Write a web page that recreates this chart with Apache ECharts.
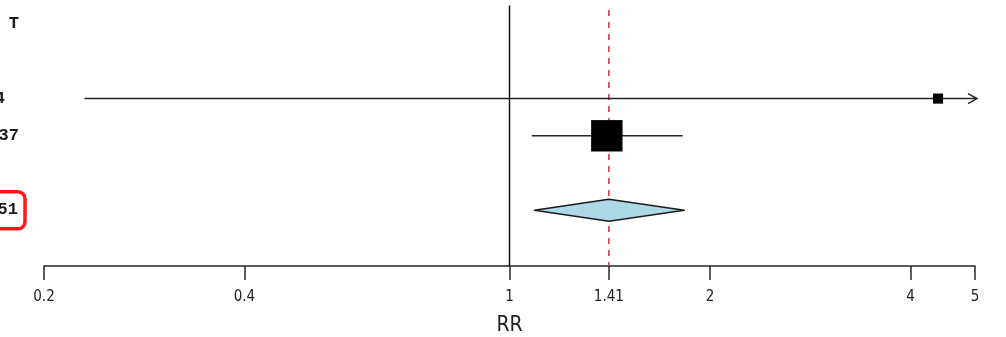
<!DOCTYPE html>
<html>
<head>
<meta charset="utf-8">
<script src="https://cdn.jsdelivr.net/npm/echarts@6/dist/echarts.min.js"></script>
<style>
  html, body { margin: 0; padding: 0; background: #fff; }
  #chart { width: 1006px; height: 337px; }
</style>
</head>
<body>
<div id="chart"></div>
<script>
// Individual studies (row = position on the vertical scale, top to bottom)
const studyRows = [2, 3];
const studyRR = [4.40, 1.40];
const studyLower = [0.23, 1.08];
const studyUpper = [84, 1.82];
const studyWeight = [9.4, 90.6];

// Pooled estimate
const pooledRow = 5;
const pooledRR = 1.41;
const pooledLower = 1.09;
const pooledUpper = 1.83;

// Text column on the left
const sideText = ['T', '4', '37', '51'];
const sideRows = [0, 2, 3, 5];

// Axis
const tickValues = [0.2, 0.4, 1, 1.41, 2, 4, 5];
const nullValue = 1;
const axisMin = 0.2;
const axisMax = 5;
const axisName = 'RR';

const chart = echarts.init(document.getElementById('chart'), null, { renderer: 'canvas' });

const studyData = studyRows.map((r, i) => [r, studyLower[i], studyRR[i], studyUpper[i], studyWeight[i]]);
const pooledData = [[pooledRow, pooledLower, pooledRR, pooledUpper]];
// vertical reference lines: [x value, top row, line kind]
const refData = [[nullValue, -0.5, 0], [pooledRR, -0.38, 1]];

const LINE = '#262626';
const AXIS_FONT = 'Liberation Sans Narrow, DejaVu Sans Condensed, Liberation Sans, sans-serif';
const Y_BOTTOM = 6.5;

function renderRef(params, api) {
  const x = api.value(0);
  const top = api.coord([x, api.value(1)]);
  const bottom = api.coord([x, Y_BOTTOM]);
  const dashed = api.value(2) === 1;
  return {
    type: 'line',
    shape: { x1: top[0], y1: top[1], x2: bottom[0], y2: bottom[1] },
    style: dashed
      ? { stroke: '#c8323c', lineWidth: 1.5, lineDash: [6, 6] }
      : { stroke: '#111', lineWidth: 1.5 }
  };
}

function renderStudy(params, api) {
  const row = api.value(0);
  const lo = api.value(1), est = api.value(2), hi = api.value(3), w = api.value(4);
  const pLo = api.coord([Math.max(lo, axisMin), row]);
  const pHi = api.coord([Math.min(hi, axisMax), row]);
  const pEst = api.coord([est, row]);
  const size = 3.3 * Math.sqrt(w);
  const children = [];
  const clipped = hi > axisMax;
  const xEnd = clipped ? pHi[0] + 2 : pHi[0];
  children.push({
    type: 'line',
    shape: { x1: pLo[0], y1: pLo[1], x2: xEnd, y2: pHi[1] },
    style: { stroke: LINE, lineWidth: 1.5 }
  });
  if (clipped) {
    children.push({
      type: 'polyline',
      shape: { points: [[xEnd - 9, pHi[1] - 5], [xEnd, pHi[1]], [xEnd - 9, pHi[1] + 5]] },
      style: { stroke: LINE, lineWidth: 1.5, fill: null }
    });
  }
  children.push({
    type: 'rect',
    shape: { x: pEst[0] - size / 2, y: pEst[1] - size / 2, width: size, height: size },
    style: { fill: '#000' }
  });
  return { type: 'group', children };
}

function renderPooled(params, api) {
  const row = api.value(0);
  const pLo = api.coord([api.value(1), row]);
  const pEst = api.coord([api.value(2), row]);
  const pHi = api.coord([api.value(3), row]);
  const h = 11;
  return {
    type: 'polygon',
    shape: { points: [[pLo[0], pLo[1]], [pEst[0], pEst[1] - h], [pHi[0], pHi[1]], [pEst[0], pEst[1] + h]] },
    style: { fill: '#add8e6', stroke: '#1a1a1a', lineWidth: 1.6, lineJoin: 'round' }
  };
}

const option = {
  animation: false,
  backgroundColor: '#fff',
  grid: { left: 44, right: 31, top: 0, bottom: 71, containLabel: false, outerBoundsMode: 'none' },
  xAxis: {
    type: 'log',
    logBase: 10,
    position: 'bottom',
    min: axisMin,
    max: axisMax,
    name: axisName,
    nameLocation: 'middle',
    nameGap: 49,
    nameTextStyle: { fontSize: 21, color: '#222', fontFamily: AXIS_FONT },
    axisLine: { show: true, onZero: false, lineStyle: { color: LINE, width: 1.5 } },
    axisTick: { show: true, length: 14, customValues: tickValues, lineStyle: { color: LINE, width: 1.5 } },
    axisLabel: {
      show: true,
      customValues: tickValues,
      margin: 24,
      fontSize: 15,
      color: '#222',
      fontFamily: AXIS_FONT,
      formatter: v => String(+Number(v).toPrecision(3))
    },
    splitLine: { show: false },
    minorTick: { show: false }
  },
  yAxis: {
    type: 'value',
    inverse: true,
    min: -0.65,
    max: Y_BOTTOM,
    show: false,
    splitLine: { show: false }
  },
  series: [
    {
      type: 'custom',
      name: 'reference',
      renderItem: renderRef,
      encode: { x: 0, y: 1 },
      data: refData,
      clip: false,
      silent: true,
      z: 1
    },
    {
      type: 'custom',
      name: 'studies',
      renderItem: renderStudy,
      encode: { x: [1, 2, 3], y: 0 },
      data: studyData,
      clip: false,
      z: 3
    },
    {
      type: 'custom',
      name: 'pooled',
      renderItem: renderPooled,
      encode: { x: [1, 2, 3], y: 0 },
      data: pooledData,
      clip: false,
      z: 4
    }
  ]
};

chart.setOption(option);

// Left text column, aligned to the rows of the plot
const rightEdges = [19, 5, 19, 18];
const graphics = sideText.map((t, i) => {
  const y = chart.convertToPixel({ yAxisIndex: 0 }, sideRows[i]);
  return {
    type: 'text',
    x: rightEdges[i],
    y: y,
    style: {
      text: t,
      align: 'right',
      verticalAlign: 'middle',
      font: 'bold 17px "Liberation Mono", "DejaVu Sans Mono", monospace',
      fill: '#1a1a1a'
    }
  };
});
const boxY = chart.convertToPixel({ yAxisIndex: 0 }, sideRows[3]);
graphics.push({
  type: 'rect',
  shape: { x: -12, y: boxY - 18.5, width: 37, height: 37, r: 7 },
  style: { fill: null, stroke: '#ff1a1a', lineWidth: 3.5 }
});
chart.setOption({ graphic: graphics });
</script>
</body>
</html>
